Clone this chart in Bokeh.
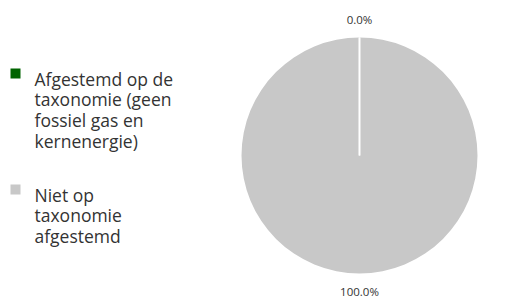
import math
import textwrap
from bokeh.plotting import figure
from bokeh.models import Range1d
from bokeh.core.properties import value
from bokeh.embed import file_html
from bokeh.resources import INLINE

categories = ["Afgestemd op de taxonomie (geen fossiel gas en kernenergie)",
              "Niet op taxonomie afgestemd"]
values = [0.0, 100.0]
colors = ["#006400", "#c8c8c8"]
label_texts = ["0.0%", "100.0%"]

W, H = 507, 298
p = figure(width=W, height=H, output_backend="svg", toolbar_location=None,
           x_range=Range1d(0, W), y_range=Range1d(0, H), min_border=0)
p.axis.visible = False
p.grid.visible = False
p.outline_line_color = None
p.background_fill_color = "white"

cx, cy, r = 359, 143, 118
total = sum(values)
starts, ends, mids = [], [], []
acc = 0.0
for v in values:
    a0 = math.pi / 2 - 2 * math.pi * acc / total
    acc += v
    a1 = math.pi / 2 - 2 * math.pi * acc / total
    starts.append(a0)
    ends.append(a1)
    mids.append((a0 + a1) / 2)

# slice fills
for i, v in enumerate(values):
    if v <= 0:
        continue
    if abs(ends[i] - starts[i]) >= 2 * math.pi - 1e-9:
        p.circle(x=[cx], y=[cy], radius=r, fill_color=colors[i], line_color=None)
    else:
        p.wedge(x=[cx], y=[cy], radius=r, start_angle=[ends[i]], end_angle=[starts[i]],
                fill_color=colors[i], line_color=None)

# slice borders
bx0, by0, bx1, by1 = [], [], [], []
for a in starts:
    bx0.append(cx); by0.append(cy)
    bx1.append(cx + r * math.cos(a)); by1.append(cy + r * math.sin(a))
p.segment(x0=bx0, y0=by0, x1=bx1, y1=by1, line_color="white", line_width=1.6)

# outside labels
lr = r + 18
p.text(x=[cx + lr * math.cos(m) for m in mids], y=[cy + lr * math.sin(m) for m in mids],
       text=label_texts, text_font=value("Open Sans"), text_font_size="11.5px",
       text_color="#333333", text_align="center", text_baseline="middle")

# legend
leg_x_sq, leg_x_txt = 15, 34
sq_y = [225, 109]
first_base = [219.7, 103.7]
line_h = 20.6
for i, cat in enumerate(categories):
    lines = textwrap.wrap(cat, 16)
    p.rect(x=[leg_x_sq], y=[sq_y[i]], width=10, height=10,
           fill_color=colors[i], line_color=None)
    p.text(x=[leg_x_txt] * len(lines), y=[first_base[i] - k * line_h for k in range(len(lines))],
           text=lines, text_font=value("Open Sans"), text_font_size="17.5px",
           text_color="#333333", text_align="left", text_baseline="alphabetic")

open("out.html", "w").write(file_html(p, INLINE))
